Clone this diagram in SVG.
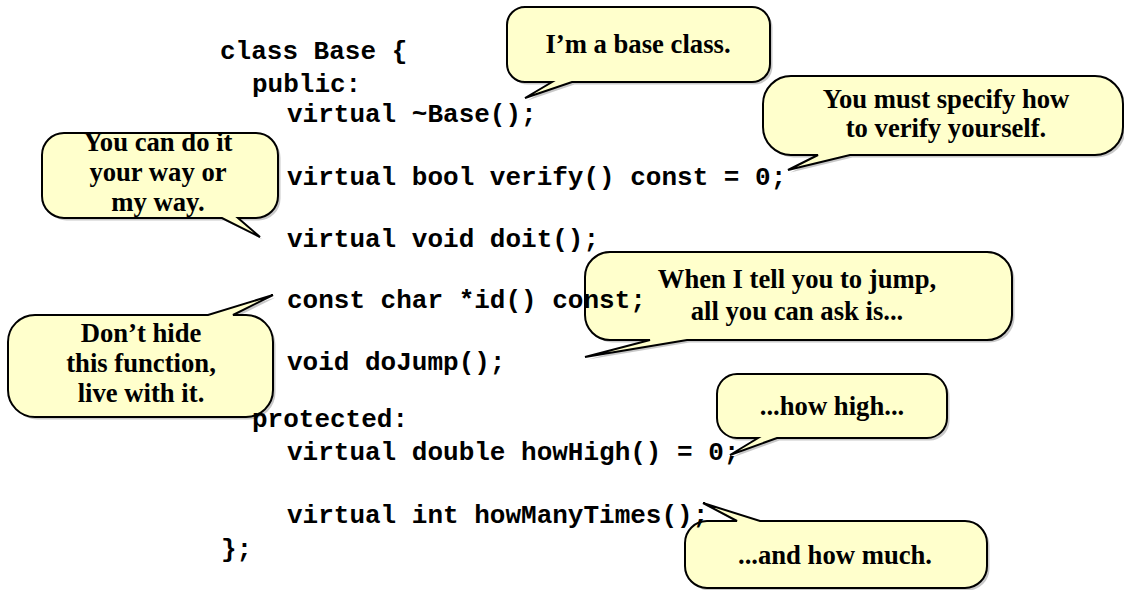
<svg xmlns="http://www.w3.org/2000/svg" xmlns:xlink="http://www.w3.org/1999/xlink" width="1124" height="590" viewBox="0 0 1124 590">
<style>
.code{font-family:"Liberation Mono","Courier New",monospace;font-weight:bold;font-size:26px;fill:#000}
.bub{fill:#FFFFCC;stroke:#000;stroke-width:2;stroke-linejoin:miter}
.shd{fill:#9a9a9a;opacity:0.55}
.lbl{font-family:"Liberation Serif","Times New Roman",serif;font-weight:bold;font-size:26.67px;fill:#000;text-anchor:middle}
</style>
<defs>
<path id="p1" d="M525,7 H752 A18,18 0 0 1 770,25 V64 A18,18 0 0 1 752,82 H572 L525,98 L552,82 H525 A18,18 0 0 1 507,64 V25 A18,18 0 0 1 525,7 Z"/>
<path id="p2" d="M791,76 H1095 A28,28 0 0 1 1123,104 V127 A28,28 0 0 1 1095,155 H850 L788,170 L818,155 H791 A28,28 0 0 1 763,127 V104 A28,28 0 0 1 791,76 Z"/>
<path id="p3" d="M64,133 H256 A22,22 0 0 1 278,155 V196 A22,22 0 0 1 256,218 H238 L260,237 L222,218 H64 A22,22 0 0 1 42,196 V155 A22,22 0 0 1 64,133 Z"/>
<path id="p4" d="M35,315 H208 L273,295 L233,315 H246 A27,27 0 0 1 273,342 V390 A27,27 0 0 1 246,417 H35 A27,27 0 0 1 8,390 V342 A27,27 0 0 1 35,315 Z"/>
<path id="p5" d="M610,252 H987 A25,25 0 0 1 1012,277 V315 A25,25 0 0 1 987,340 H687 L585,357 L650,340 H610 A25,25 0 0 1 585,315 V277 A25,25 0 0 1 610,252 Z"/>
<path id="p6" d="M737,374 H927 A20,20 0 0 1 947,394 V418 A20,20 0 0 1 927,438 H777 L730,455 L758,438 H737 A20,20 0 0 1 717,418 V394 A20,20 0 0 1 737,374 Z"/>
<path id="p7" d="M707,521 H737 L703,503 L760,521 H965 A22,22 0 0 1 987,543 V566 A22,22 0 0 1 965,588 H707 A22,22 0 0 1 685,566 V543 A22,22 0 0 1 707,521 Z"/>
</defs>

<g id="bubble-base-class">
<use xlink:href="#p1" href="#p1" class="shd" transform="translate(2.5,2.5)"/>
<use xlink:href="#p1" href="#p1" class="bub"/>
<text class="lbl" x="638" y="53">I’m a base class.</text>
</g>

<g id="bubble-verify">
<use xlink:href="#p2" href="#p2" class="shd" transform="translate(2.5,2.5)"/>
<use xlink:href="#p2" href="#p2" class="bub"/>
<text class="lbl" x="946" y="108">You must specify how</text>
<text class="lbl" x="946" y="137">to verify yourself.</text>
</g>

<g id="bubble-doit">
<use xlink:href="#p3" href="#p3" class="shd" transform="translate(2.5,2.5)"/>
<use xlink:href="#p3" href="#p3" class="bub"/>
<text class="lbl" x="158" y="151">You can do it</text>
<text class="lbl" x="158" y="181">your way or</text>
<text class="lbl" x="158" y="211">my way.</text>
</g>

<g id="bubble-id">
<use xlink:href="#p4" href="#p4" class="shd" transform="translate(2.5,2.5)"/>
<use xlink:href="#p4" href="#p4" class="bub"/>
<text class="lbl" x="141" y="342">Don’t hide</text>
<text class="lbl" x="141" y="372">this function,</text>
<text class="lbl" x="141" y="402">live with it.</text>
</g>

<g id="bubble-jump">
<use xlink:href="#p5" href="#p5" class="shd" transform="translate(2.5,2.5)"/>
<use xlink:href="#p5" href="#p5" class="bub"/>
<text class="lbl" x="797" y="288">When I tell you to jump,</text>
<text class="lbl" x="797" y="320">all you can ask is...</text>
</g>

<g id="bubble-howhigh">
<use xlink:href="#p6" href="#p6" class="shd" transform="translate(2.5,2.5)"/>
<use xlink:href="#p6" href="#p6" class="bub"/>
<text class="lbl" x="832" y="415">...how high...</text>
</g>

<g id="bubble-howmuch">
<use xlink:href="#p7" href="#p7" class="shd" transform="translate(2.5,2.5)"/>
<use xlink:href="#p7" href="#p7" class="bub"/>
<text class="lbl" x="835" y="564">...and how much.</text>
</g>

<g id="connectors"></g>

<g id="code">
<text class="code" x="220" y="59" xml:space="preserve">class Base {</text>
<text class="code" x="252" y="92">public:</text>
<text class="code" x="287" y="122">virtual ~Base();</text>
<text class="code" x="287" y="185">virtual bool verify() const = 0;</text>
<text class="code" x="287" y="247">virtual void doit();</text>
<text class="code" x="287" y="308">const char *id() const;</text>
<text class="code" x="287" y="370">void doJump();</text>
<text class="code" x="252" y="427">protected:</text>
<text class="code" x="287" y="460">virtual double howHigh() = 0;</text>
<text class="code" x="287" y="523">virtual int howManyTimes();</text>
<text class="code" x="221" y="557">};</text>
</g>
</svg>
